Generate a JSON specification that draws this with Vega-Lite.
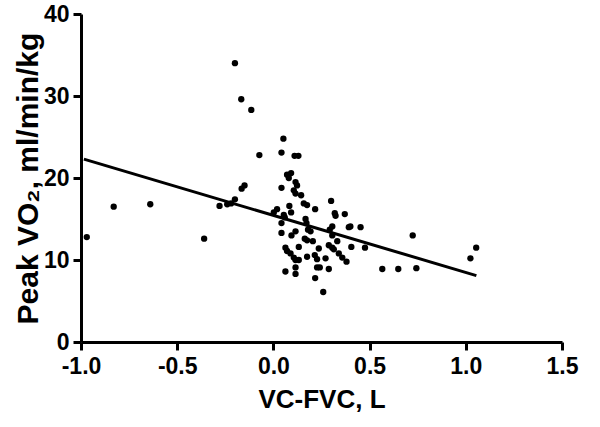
{
  "$schema": "https://vega.github.io/schema/vega-lite/v6.json",
  "width": 481,
  "height": 328,
  "autosize": {"type": "none"},
  "padding": {"left": 81, "top": 14, "right": 38, "bottom": 85},
  "background": "white",
  "config": {
    "view": {"stroke": null},
    "font": "Liberation Sans",
    "axis": {
      "domainColor": "black",
      "domainWidth": 3,
      "tickColor": "black",
      "tickWidth": 3,
      "tickSize": 8,
      "labelColor": "black",
      "labelFont": "Liberation Sans",
      "labelFontWeight": "bold",
      "labelFontSize": 23,
      "labelFlush": false,
      "labelOverlap": false,
      "titleColor": "black",
      "titleFont": "Liberation Sans",
      "titleFontWeight": "bold",
      "titleFontSize": 26,
      "grid": false
    }
  },
  "datasets": {
    "pts": [
      {"x": -0.97, "y": 12.8}, {"x": -0.83, "y": 16.5}, {"x": -0.64, "y": 16.8}, {"x": -0.36, "y": 12.6},
      {"x": -0.28, "y": 16.6}, {"x": -0.24, "y": 16.8}, {"x": -0.22, "y": 16.9}, {"x": -0.2, "y": 17.4},
      {"x": -0.2, "y": 34.0}, {"x": -0.167, "y": 29.6}, {"x": -0.115, "y": 28.3}, {"x": -0.073, "y": 22.8},
      {"x": -0.15, "y": 19.1}, {"x": -0.165, "y": 18.7}, {"x": 0.052, "y": 24.8}, {"x": 0.042, "y": 23.1},
      {"x": 0.11, "y": 22.7}, {"x": 0.13, "y": 22.7}, {"x": 0.071, "y": 20.4}, {"x": 0.092, "y": 20.6},
      {"x": 0.08, "y": 20.0}, {"x": 0.115, "y": 19.5}, {"x": 0.123, "y": 19.1}, {"x": 0.042, "y": 18.8},
      {"x": 0.106, "y": 18.5}, {"x": 0.115, "y": 18.1}, {"x": 0.144, "y": 17.9}, {"x": 0.158, "y": 16.9},
      {"x": 0.175, "y": 16.7}, {"x": 0.083, "y": 16.6}, {"x": 0.019, "y": 16.2}, {"x": 0.002, "y": 15.8},
      {"x": 0.3, "y": 17.2}, {"x": 0.217, "y": 16.2}, {"x": 0.092, "y": 15.8}, {"x": 0.054, "y": 15.5},
      {"x": 0.059, "y": 15.2}, {"x": 0.042, "y": 14.5}, {"x": 0.167, "y": 15.0}, {"x": 0.172, "y": 14.5},
      {"x": 0.319, "y": 15.7}, {"x": 0.323, "y": 15.4}, {"x": 0.371, "y": 15.6}, {"x": 0.4, "y": 14.1},
      {"x": 0.392, "y": 14.0}, {"x": 0.453, "y": 14.0}, {"x": 0.306, "y": 14.1}, {"x": 0.293, "y": 13.7},
      {"x": 0.306, "y": 13.0}, {"x": 0.18, "y": 13.7}, {"x": 0.193, "y": 13.5}, {"x": 0.115, "y": 13.5},
      {"x": 0.094, "y": 13.0}, {"x": 0.042, "y": 13.3}, {"x": 0.163, "y": 12.6}, {"x": 0.175, "y": 12.4},
      {"x": 0.205, "y": 12.3}, {"x": 0.332, "y": 12.3}, {"x": 0.405, "y": 11.6}, {"x": 0.476, "y": 11.5},
      {"x": 0.288, "y": 11.8}, {"x": 0.306, "y": 11.5}, {"x": 0.314, "y": 11.3}, {"x": 0.132, "y": 11.6},
      {"x": 0.0625, "y": 11.5}, {"x": 0.071, "y": 11.1}, {"x": 0.236, "y": 11.4}, {"x": 0.089, "y": 10.8},
      {"x": 0.106, "y": 10.3}, {"x": 0.132, "y": 10.0}, {"x": 0.115, "y": 10.0}, {"x": 0.175, "y": 10.4},
      {"x": 0.215, "y": 10.6}, {"x": 0.227, "y": 10.1}, {"x": 0.271, "y": 10.2}, {"x": 0.34, "y": 10.8},
      {"x": 0.358, "y": 10.3}, {"x": 0.38, "y": 9.8}, {"x": 0.227, "y": 9.1}, {"x": 0.241, "y": 9.1},
      {"x": 0.288, "y": 8.9}, {"x": 0.115, "y": 9.1}, {"x": 0.0625, "y": 8.6}, {"x": 0.115, "y": 8.3},
      {"x": 0.217, "y": 7.8}, {"x": 0.259, "y": 6.1}, {"x": 0.566, "y": 8.9}, {"x": 0.649, "y": 8.9},
      {"x": 0.743, "y": 9.0}, {"x": 0.724, "y": 13.0}, {"x": 1.054, "y": 11.5}, {"x": 1.024, "y": 10.2}
    ],
    "fit": [
      {"x": -0.985, "y": 22.3},
      {"x": 1.055, "y": 8.1}
    ]
  },
  "layer": [
    {
      "data": {"name": "fit"},
      "mark": {"type": "line", "color": "black", "strokeWidth": 3, "clip": true},
      "encoding": {
        "x": {
          "field": "x", "type": "quantitative",
          "scale": {"domain": [-1, 1.5], "nice": false, "zero": false},
          "axis": {"values": [-1, -0.5, 0, 0.5, 1, 1.5], "labelExpr": "replace(format(datum.value, '.1f'), '\u2212', '-')", "title": "VC-FVC, L", "labelPadding": 5, "titlePadding": 8}
        },
        "y": {
          "field": "y", "type": "quantitative",
          "scale": {"domain": [0, 40], "nice": false},
          "axis": {"values": [0, 10, 20, 30, 40], "format": "d", "title": "Peak VO₂, ml/min/kg", "titleFontSize": 30, "labelPadding": 4, "titlePadding": 0}
        }
      }
    },
    {
      "data": {"name": "pts"},
      "mark": {"type": "circle", "color": "black", "opacity": 1, "size": 40},
      "encoding": {
        "x": {"field": "x", "type": "quantitative"},
        "y": {"field": "y", "type": "quantitative"}
      }
    }
  ]
}
